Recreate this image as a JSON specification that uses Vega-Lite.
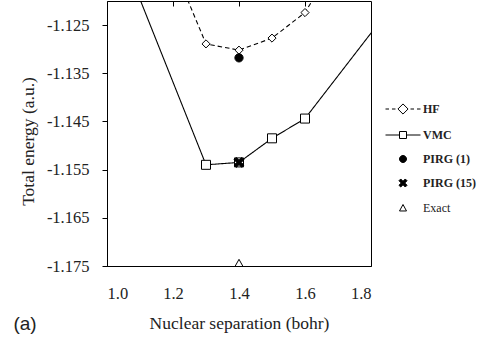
{
  "$schema": "https://vega.github.io/schema/vega-lite/v6.json",
  "autosize": {"type": "none"},
  "width": 264,
  "height": 265,
  "padding": {"left": 107, "top": 1, "right": 123, "bottom": 79},
  "title": {"text": "(a)", "orient": "bottom", "anchor": "start", "frame": "bounds", "font": "Liberation Sans", "fontSize": 19, "fontWeight": "normal", "color": "#222", "offset": 0, "dy": -17, "dx": -6},
  "data": {"values": [
    {"series": "HF", "x": 1.2, "y": -1.1125},
    {"series": "HF", "x": 1.3, "y": -1.1289},
    {"series": "HF", "x": 1.4, "y": -1.1302},
    {"series": "HF", "x": 1.5, "y": -1.1277},
    {"series": "HF", "x": 1.6, "y": -1.1224},
    {"series": "HF", "x": 1.7, "y": -1.1112},
    {"series": "VMC", "x": 1.0, "y": -1.1025},
    {"series": "VMC", "x": 1.3, "y": -1.1540},
    {"series": "VMC", "x": 1.4, "y": -1.1535},
    {"series": "VMC", "x": 1.5, "y": -1.1485},
    {"series": "VMC", "x": 1.6, "y": -1.1444},
    {"series": "VMC", "x": 1.9, "y": -1.1178},
    {"series": "PIRG (1)", "x": 1.4, "y": -1.1318},
    {"series": "PIRG (15)", "x": 1.4, "y": -1.1535},
    {"series": "Exact", "x": 1.4, "y": -1.1745}
  ]},
  "layer": [
    {
      "transform": [{"filter": "datum.series === 'HF' || datum.series === 'VMC'"}],
      "mark": {"type": "line", "clip": true, "color": "black", "strokeWidth": 1.1},
      "encoding": {
        "x": {"field": "x", "type": "quantitative", "scale": {"domain": [1.0, 1.8], "nice": false, "zero": false},
          "axis": {"orient": "bottom", "values": [1.0, 1.2, 1.4, 1.6, 1.8], "format": ".1f", "ticks": false, "grid": false, "domainColor": "black", "labelPadding": 19, "labelFont": "Liberation Serif", "labelFontSize": 16.5, "labelColor": "#222", "title": "Nuclear separation (bohr)", "titleFont": "Liberation Serif", "titleFontSize": 17.5, "titleFontWeight": "normal", "titleColor": "#222", "titlePadding": 13}},
        "y": {"field": "y", "type": "quantitative", "scale": {"domain": [-1.175, -1.12], "nice": false, "zero": false},
          "axis": {"values": [-1.175, -1.165, -1.155, -1.145, -1.135, -1.125], "labelExpr": "'-' + format(abs(datum.value), '.3f')", "grid": false, "tickSize": 5, "tickColor": "black", "domainColor": "black", "labelPadding": 13, "labelFont": "Liberation Serif", "labelFontSize": 16.5, "labelColor": "#222", "title": "Total energy (a.u.)", "titleFont": "Liberation Serif", "titleFontSize": 17.5, "titleFontWeight": "normal", "titleColor": "#222", "titlePadding": 9, "titleY": 140}},
        "strokeDash": {"field": "series", "type": "nominal", "scale": {"domain": ["HF", "VMC"], "range": [[4.5, 3], [1, 0]]}, "legend": null}
      }
    },
    {
      "mark": {"type": "point", "clip": true, "filled": false, "stroke": "black", "strokeWidth": 1, "size": 81, "opacity": 1},
      "encoding": {
        "x": {"field": "x", "type": "quantitative",
          "axis": {"orient": "top", "values": [1.2, 1.4, 1.6], "labels": false, "domain": false, "grid": false, "ticks": true, "tickSize": -5, "tickColor": "black", "title": null}},
        "y": {"field": "y", "type": "quantitative"},
        "shape": {"field": "series", "type": "nominal", "legend": null, "scale": {"domain": ["HF", "VMC", "PIRG (1)", "PIRG (15)", "Exact"], "range": [
          "M0,-0.9L0.9,0L0,0.9L-0.9,0Z",
          "M-1,-1H1V1H-1Z",
          "M0.92,0A0.92,0.92,0,1,1,-0.92,0A0.92,0.92,0,1,1,0.92,0Z",
          "M-1.1,-0.6L-0.6,-1.1L0,-0.5L0.6,-1.1L1.1,-0.6L0.5,0L1.1,0.6L0.6,1.1L0,0.5L-0.6,1.1L-1.1,0.6L-0.5,0Z",
          "M0,-0.95L0.95,0.75L-0.95,0.75Z"
        ]}},
        "fill": {"field": "series", "type": "nominal", "legend": null, "scale": {"domain": ["HF", "VMC", "PIRG (1)", "PIRG (15)", "Exact"], "range": ["white", "white", "black", "black", "white"]}}
      }
    },
    {
      "transform": [{"filter": "false"}],
      "mark": {"type": "point", "filled": false, "stroke": "black"},
      "encoding": {
        "shape": {"field": "series", "type": "nominal", "scale": {"domain": ["HF", "VMC", "PIRG (1)", "PIRG (15)", "Exact"], "range": [
          "M-1,0H-0.8M-0.63,0H-0.43M-0.29,0L0,-0.29L0.29,0L0,0.29ZM0.43,0H0.63M0.8,0H1",
          "M-1,0H-0.2M0.2,0H1M-0.2,-0.2H0.2V0.2H-0.2Z",
          "M0.2,0A0.2,0.2,0,1,1,-0.2,0A0.2,0.2,0,1,1,0.2,0Z",
          "M-0.23,-0.13L-0.13,-0.23L0,-0.1L0.13,-0.23L0.23,-0.13L0.1,0L0.23,0.13L0.13,0.23L0,0.1L-0.13,0.23L-0.23,0.13L-0.1,0Z",
          "M0,-0.2L0.2,0.17L-0.2,0.17Z"
        ]},
          "legend": {"title": null, "orient": "none", "legendX": 278, "legendY": 90, "symbolSize": 1225, "symbolStrokeColor": "black", "symbolStrokeWidth": 1, "symbolOpacity": 1, "labelFont": "Liberation Serif", "labelFontSize": 12, "labelFontWeight": "bold", "labelColor": "#222", "labelOffset": 2, "rowPadding": -8, "symbolLimit": 0,
            "encode": {"labels": {"update": {"fontWeight": {"signal": "datum.label === 'Exact' ? 'normal' : 'bold'"}}}}}},
        "fill": {"field": "series", "type": "nominal", "scale": {"domain": ["HF", "VMC", "PIRG (1)", "PIRG (15)", "Exact"], "range": ["white", "white", "black", "black", "white"]},
          "legend": {"title": null, "orient": "none", "legendX": 278, "legendY": 90, "symbolSize": 1225, "symbolStrokeColor": "black", "symbolStrokeWidth": 1, "symbolOpacity": 1, "labelFont": "Liberation Serif", "labelFontSize": 12, "labelFontWeight": "bold", "labelColor": "#222", "labelOffset": 2, "rowPadding": -8, "symbolLimit": 0,
            "encode": {"labels": {"update": {"fontWeight": {"signal": "datum.label === 'Exact' ? 'normal' : 'bold'"}}}}}}
      }
    }
  ],
  "resolve": {"scale": {"shape": "independent", "fill": "independent"}, "axis": {"x": "independent"}},
  "config": {
    "view": {"stroke": "black", "strokeWidth": 1},
    "font": "Liberation Serif"
  }
}
